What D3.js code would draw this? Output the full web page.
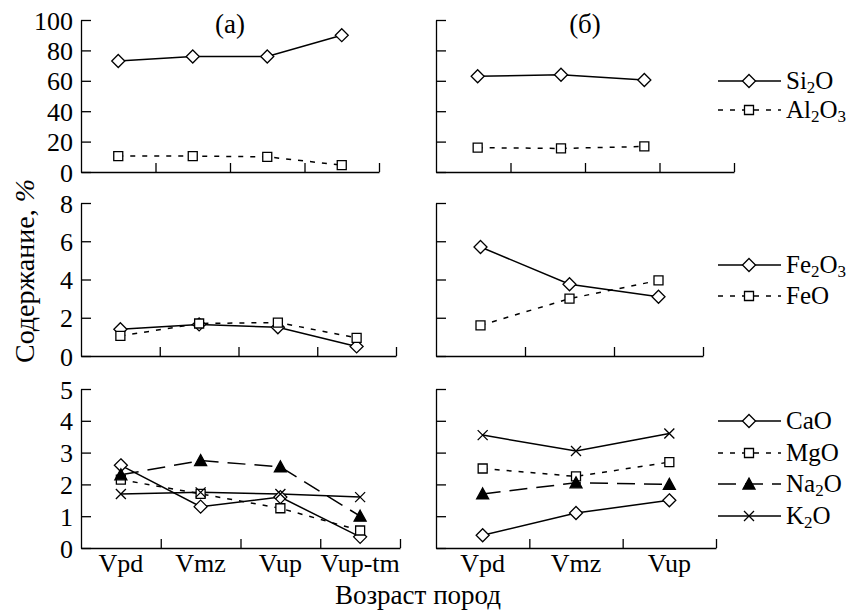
<!DOCTYPE html>
<html>
<head>
<meta charset="utf-8">
<script src="https://d3js.org/d3.v7.min.js"></script>
</head>
<body style="margin:0">
<svg id="chart" width="853" height="610"></svg>
<script>
// categories
var catsA = ["Vpd", "Vmz", "Vup", "Vup-tm"];
var catsB = ["Vpd", "Vmz", "Vup"];

// SiO2 / Al2O3
var si2oA = [73, 76, 76, 90];
var al2o3A = [10.5, 10.5, 10, 4.5];
var si2oB = [63, 64, 60.5];
var al2o3B = [16, 15.5, 16.8];

// Fe2O3 / FeO
var fe2o3A = [1.4, 1.65, 1.5, 0.5];
var feoA = [1.05, 1.7, 1.75, 0.95];
var fe2o3B = [5.7, 3.75, 3.1];
var feoB = [1.6, 3.0, 3.95];

// CaO / MgO / Na2O / K2O
var caoA = [2.6, 1.3, 1.6, 0.35];
var mgoA = [2.15, 1.7, 1.25, 0.55];
var na2oA = [2.3, 2.75, 2.55, 1.0];
var k2oA = [1.7, 1.75, 1.7, 1.6];
var caoB = [0.4, 1.1, 1.5];
var mgoB = [2.5, 2.25, 2.7];
var na2oB = [1.7, 2.05, 2.0];
var k2oB = [3.55, 3.05, 3.6];

var ticksTop = [0, 20, 40, 60, 80, 100];
var ticksMid = [0, 2, 4, 6, 8];
var ticksBot = [0, 1, 2, 3, 4, 5];

var svg = d3.select("#chart");
var FS = 26;

var markers = {
    diamond: "M0,-6.5L6.5,0L0,6.5L-6.5,0Z",
    square: "M-4.5,-4.5H4.5V4.5H-4.5Z",
    triangle: "M0,-6L6,5H-6Z",
    cross: "M-5,-5L5,5M5,-5L-5,5"
};
var styles = {
    solid: null,
    dot: "5,7",
    dash: "18,9"
};

function txt(sel, size) {
    return sel.attr("font-family", "Liberation Serif")
        .style("font-family", "Liberation Serif")
        .attr("font-size", size || FS).attr("fill", "#000");
}

// write "Na_2O" with subscripts
function richText(sel, s) {
    var parts = s.split(/(_\d)/).filter(p => p);
    var shift = 0;
    parts.forEach(function(p) {
        if (p[0] === "_") {
            sel.append("tspan").attr("font-size", 17).attr("dy", 4 - shift).text(p[1]);
            shift = 4;
        } else {
            sel.append("tspan").attr("dy", -shift).text(p);
            shift = 0;
        }
    });
}

function drawMarker(g, type, x, y) {
    var p = g.append("path")
        .attr("d", markers[type])
        .attr("transform", "translate(" + x + "," + y + ")")
        .attr("stroke", "#000")
        .attr("stroke-width", 1.3);
    if (type === "triangle") p.attr("fill", "#000");
    else if (type === "cross") p.attr("fill", "none");
    else p.attr("fill", "#fff");
}

function panel(o) {
    var g = svg.append("g");
    var xa = d3.scaleLinear().domain([0, o.nTicks]).range([o.x0, o.x1]);
    var xp = d3.scaleBand().domain(o.cats).range([o.x0, o.xp1]);
    var y = d3.scaleLinear().domain(o.yDomain).range(o.yRange);

    g.append("g")
        .attr("transform", "translate(0," + o.yRange[0] + ")")
        .call(d3.axisBottom(xa).tickValues(d3.range(1, o.nTicks + 1)).tickSize(-9).tickSizeOuter(0).tickFormat(""))
        .call(a => a.selectAll("path,line").attr("stroke", "#000").attr("stroke-width", 1.3));

    var ya = g.append("g")
        .attr("transform", "translate(" + o.x0 + ",0)")
        .call(d3.axisLeft(y).tickValues(o.ticks).tickFormat(d3.format("d")).tickSize(-10).tickSizeOuter(0).tickPadding(8))
        .call(a => a.selectAll("path,line").attr("stroke", "#000").attr("stroke-width", 1.3));
    ya.attr("font-family", "Liberation Serif").attr("font-size", FS);
    txt(ya.selectAll("text"))
        .attr("dy", "0.35em")
        .style("display", o.yLabels ? null : "none");

    if (o.catLabels) {
        txt(g.selectAll(".cat").data(o.cats).join("text"))
            .attr("x", d => xp(d) + xp.bandwidth() / 2)
            .attr("y", o.yRange[0] + 24)
            .attr("text-anchor", "middle")
            .text(d => d);
    }

    var line = d3.line()
        .x((d, i) => xp(o.cats[i]) + xp.bandwidth() / 2)
        .y(d => y(d));

    o.series.forEach(function(s) {
        g.append("path")
            .datum(s.values)
            .attr("d", line)
            .attr("fill", "none")
            .attr("stroke", "#000")
            .attr("stroke-width", 1.5)
            .attr("stroke-dasharray", styles[s.style]);
    });
    o.series.forEach(function(s) {
        s.values.forEach(function(v, i) {
            drawMarker(g, s.marker, xp(o.cats[i]) + xp.bandwidth() / 2, y(v));
        });
    });

    if (o.legend) {
        o.series.forEach(function(s, i) {
            var ly = o.legendY[i];
            g.append("line")
                .attr("x1", 718).attr("x2", 781).attr("y1", ly).attr("y2", ly)
                .attr("stroke", "#000").attr("stroke-width", 1.5)
                .attr("stroke-dasharray", styles[s.style]);
            drawMarker(g, s.marker, 749, ly);
            richText(txt(g.append("text"), 25).attr("x", 786).attr("y", ly + 8), s.name);
        });
    }
}

var topSeries = function(a, b) {
    return [
        {name: "Si_2O", values: a, marker: "diamond", style: "solid"},
        {name: "Al_2O_3", values: b, marker: "square", style: "dot"}
    ];
};
var midSeries = function(a, b) {
    return [
        {name: "Fe_2O_3", values: a, marker: "diamond", style: "solid"},
        {name: "FeO", values: b, marker: "square", style: "dot"}
    ];
};
var botSeries = function(a, b, c, d) {
    return [
        {name: "CaO", values: a, marker: "diamond", style: "solid"},
        {name: "MgO", values: b, marker: "square", style: "dot"},
        {name: "Na_2O", values: c, marker: "triangle", style: "dash"},
        {name: "K_2O", values: d, marker: "cross", style: "solid"}
    ];
};

// left column (а)
panel({x0: 81, x1: 379, xp1: 379, nTicks: 4, cats: catsA, yDomain: [0, 100], yRange: [172, 20],
       ticks: ticksTop, yLabels: true, series: topSeries(si2oA, al2o3A)});
panel({x0: 81, x1: 396, xp1: 396, nTicks: 4, cats: catsA, yDomain: [0, 8], yRange: [356, 203],
       ticks: ticksMid, yLabels: true, series: midSeries(fe2o3A, feoA)});
panel({x0: 81, x1: 400, xp1: 400, nTicks: 4, cats: catsA, yDomain: [0, 5], yRange: [548, 389],
       ticks: ticksBot, yLabels: true, catLabels: true, series: botSeries(caoA, mgoA, na2oA, k2oA)});

// right column (б)
panel({x0: 436, x1: 734, xp1: 686, nTicks: 4, cats: catsB, yDomain: [0, 100], yRange: [172, 20],
       ticks: ticksTop, series: topSeries(si2oB, al2o3B), legend: true, legendY: [81, 110]});
panel({x0: 436, x1: 703, xp1: 703, nTicks: 3, cats: catsB, yDomain: [0, 8], yRange: [356, 203],
       ticks: ticksMid, series: midSeries(fe2o3B, feoB), legend: true, legendY: [265, 296]});
panel({x0: 436, x1: 716, xp1: 716, nTicks: 3, cats: catsB, yDomain: [0, 5], yRange: [548, 389],
       ticks: ticksBot, catLabels: true, series: botSeries(caoB, mgoB, na2oB, k2oB),
       legend: true, legendY: [421, 453, 484, 516]});

// titles
txt(svg.append("text"), 27).attr("x", 230).attr("y", 33).attr("text-anchor", "middle").text("(а)");
txt(svg.append("text"), 27).attr("x", 585).attr("y", 33).attr("text-anchor", "middle").text("(б)");

// axis titles
var yl = txt(svg.append("text"), 28)
    .attr("transform", "translate(34,271) rotate(-90)")
    .attr("text-anchor", "middle");
yl.append("tspan").text("Содержание, ");
yl.append("tspan").attr("font-style", "italic").text("%");

txt(svg.append("text"), 27).attr("x", 418).attr("y", 604).attr("text-anchor", "middle")
    .text("Возраст пород");
</script>
</body>
</html>
